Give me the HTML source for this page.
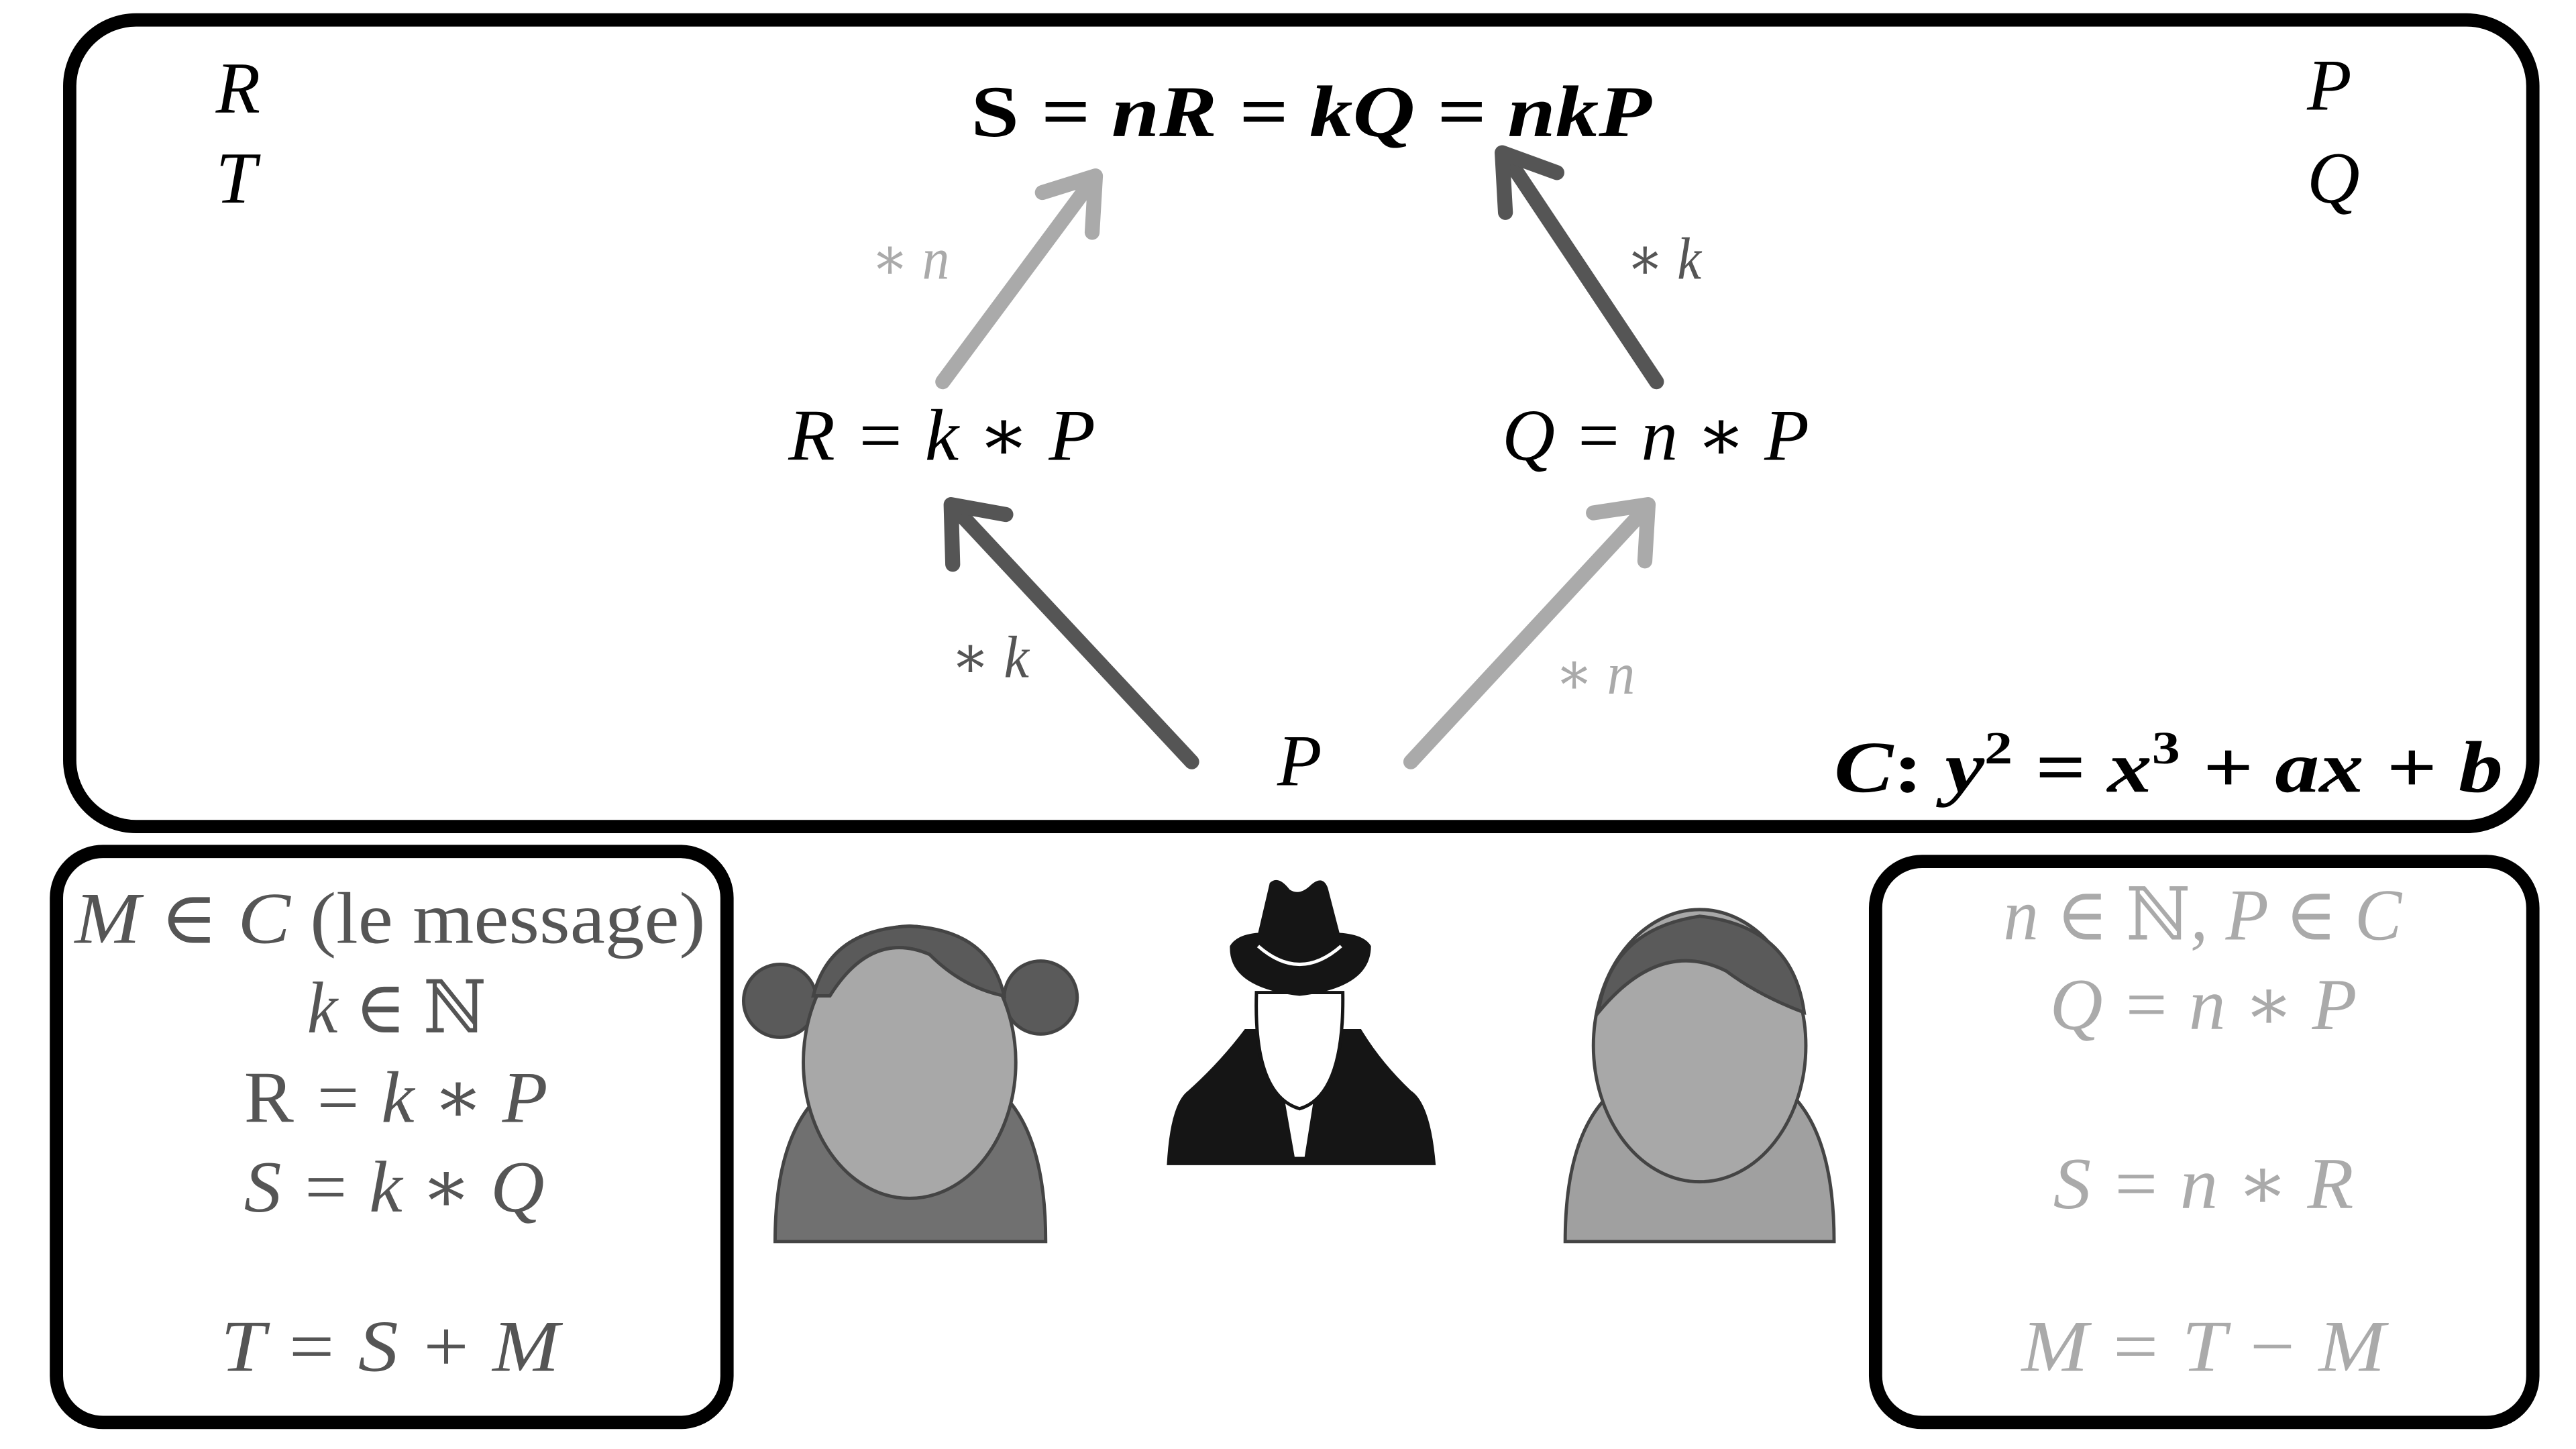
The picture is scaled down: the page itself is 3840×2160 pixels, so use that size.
<!DOCTYPE html>
<html><head><meta charset="utf-8"><style>
html,body{margin:0;padding:0;background:#fff;}
svg{display:block;}
text{font-family:"Liberation Serif","DejaVu Serif",serif;font-style:italic;}
</style></head><body>
<svg width="3840" height="2160" viewBox="0 0 1552 873" preserveAspectRatio="none" xmlns="http://www.w3.org/2000/svg">
<rect x="42" y="12" width="1484" height="486" rx="40" fill="#fff" stroke="#000" stroke-width="8"/>
<rect x="34" y="513" width="404" height="344" rx="28" fill="#fff" stroke="#000" stroke-width="8"/>
<rect x="1130" y="519" width="396" height="338" rx="28" fill="#fff" stroke="#000" stroke-width="8"/>

<g font-size="44" fill="#000" lengthAdjust="spacingAndGlyphs">
<text x="130" y="68">R</text>
<text x="130" y="122">T</text>
<text x="1390" y="66">P</text>
<text x="1390" y="122">Q</text>
<text x="585" y="82" textLength="410" lengthAdjust="spacingAndGlyphs" font-weight="bold"><tspan font-style="normal">S</tspan> = nR = kQ = nkP</text>
<text x="475" y="277" textLength="185" lengthAdjust="spacingAndGlyphs">R = k ∗ P</text>
<text x="905" y="277" textLength="185" lengthAdjust="spacingAndGlyphs">Q = n ∗ P</text>
<text x="783" y="473" text-anchor="middle">P</text>
<text x="1105" y="477" textLength="403" lengthAdjust="spacingAndGlyphs" font-weight="bold">C<tspan font-style="normal">:</tspan> y<tspan font-size="28" dy="-17" font-style="normal">2</tspan><tspan dy="17"> = x</tspan><tspan font-size="28" dy="-17" font-style="normal">3</tspan><tspan dy="17"> + ax + b</tspan></text>
</g>
<g font-size="36">
<text x="525" y="168" textLength="47" lengthAdjust="spacingAndGlyphs" fill="#aaa">∗ n</text>
<text x="980" y="168" textLength="45" lengthAdjust="spacingAndGlyphs" fill="#555">∗ k</text>
<text x="573" y="408" textLength="47" lengthAdjust="spacingAndGlyphs" fill="#555">∗ k</text>
<text x="937" y="418" textLength="48" lengthAdjust="spacingAndGlyphs" fill="#aaa">∗ n</text>
</g>

<g stroke-width="9" stroke-linecap="round" stroke-linejoin="round" fill="none">
<g stroke="#555"><line x1="718" y1="459" x2="577" y2="308"/><polyline points="574,340 573,304 606,310"/></g>
<g stroke="#aaa"><line x1="850" y1="459" x2="990" y2="308"/><polyline points="960,309 993,304 991,338"/></g>
<g stroke="#aaa"><line x1="568" y1="230" x2="657" y2="110"/><polyline points="628,116 660,106 658,140"/></g>
<g stroke="#555"><line x1="998" y1="230" x2="908" y2="95"/><polyline points="907,128 905,92 938,104"/></g>
</g>

<g font-size="44" fill="#555">
<text x="45" y="568" textLength="380" lengthAdjust="spacingAndGlyphs">M ∈ C <tspan font-style="normal">(le message)</tspan></text>
<text x="185" y="622" textLength="108" lengthAdjust="spacingAndGlyphs">k ∈ <tspan font-style="normal">ℕ</tspan></text>
<text x="147" y="676" textLength="183" lengthAdjust="spacingAndGlyphs"><tspan font-style="normal">R</tspan> = k ∗ P</text>
<text x="147" y="730" textLength="181" lengthAdjust="spacingAndGlyphs">S = k ∗ Q</text>
<text x="133" y="826" textLength="204" lengthAdjust="spacingAndGlyphs">T = S + M</text>
</g>
<g font-size="44" fill="#aaa">
<text x="1207" y="566" textLength="240" lengthAdjust="spacingAndGlyphs">n ∈ <tspan font-style="normal">ℕ</tspan>, P ∈ C</text>
<text x="1235" y="620" textLength="185" lengthAdjust="spacingAndGlyphs">Q = n ∗ P</text>
<text x="1237" y="728" textLength="181" lengthAdjust="spacingAndGlyphs">S = n ∗ R</text>
<text x="1218" y="826" textLength="219" lengthAdjust="spacingAndGlyphs">M = T − M</text>
</g>

<g stroke="#444" stroke-width="2">
<path d="M467,748 Q467,660 520,645 L580,645 Q630,660 630,748 Z" fill="#707070"/>
<circle cx="470" cy="603" r="22" fill="#5a5a5a"/>
<circle cx="627" cy="601" r="22" fill="#5a5a5a"/>
<ellipse cx="548" cy="640" rx="64" ry="82" fill="#a8a8a8"/>
<path d="M490,600 Q500,560 548,558 Q596,560 605,600 Q580,595 560,575 Q525,560 500,600 Z" fill="#5a5a5a"/>
</g>
<g stroke="#444" stroke-width="2">
<path d="M943,748 Q943,660 995,645 L1055,645 Q1105,660 1105,748 Z" fill="#a0a0a0"/>
<ellipse cx="1024" cy="630" rx="64" ry="82" fill="#a8a8a8"/>
<path d="M963,610 Q970,560 1024,552 Q1080,558 1087,610 Q1060,600 1040,585 Q1000,565 963,610 Z" fill="#5a5a5a"/>
</g>
<g>
<path d="M703,702 Q705,665 716,657 Q735,640 750,620 L820,620 Q832,640 850,657 Q862,665 865,702 Z" fill="#151515"/>
<path d="M770,640 L780,697 L786,697 L795,640 Q783,660 770,640 Z" fill="#fff"/>
<path d="M757,598 Q755,660 783,668 Q810,660 809,598 Z" fill="#fff" stroke="#151515" stroke-width="2"/>
<path d="M758,562 L765,532 Q770,527 777,536 Q783,540 790,533 Q797,527 800,535 L807,562 Q822,563 826,570 Q826,595 783,600 Q740,595 741,570 Q745,563 758,562 Z" fill="#151515"/>
<path d="M758,570 Q783,592 808,570" fill="none" stroke="#fff" stroke-width="2"/>
</g>
</svg>
</body></html>
